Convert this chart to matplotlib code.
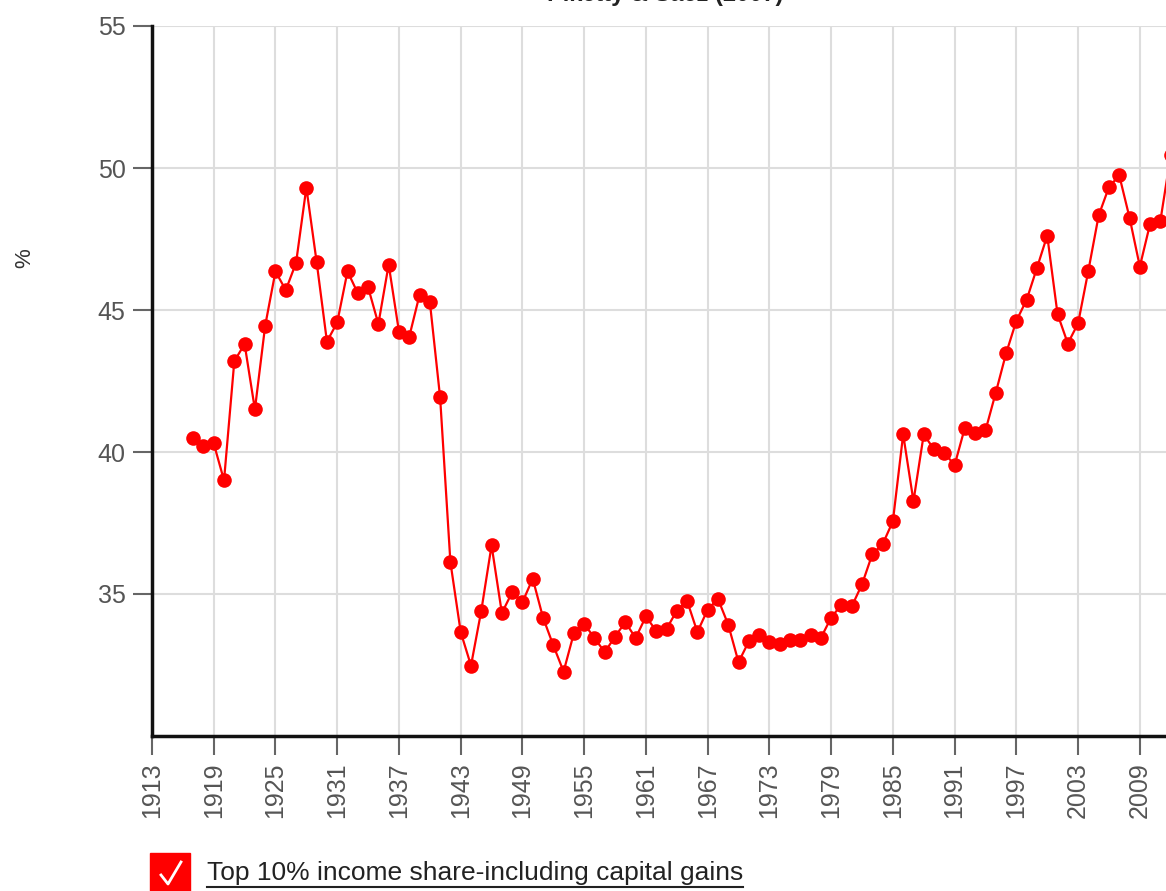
import matplotlib
matplotlib.use("Agg")
import matplotlib.pyplot as plt
from matplotlib.patches import Rectangle
from matplotlib.lines import Line2D

# 美国前10%收入占比(含资本利得), Piketty & Saez
years = list(range(1917, 2013))
top10_share = [
    40.5, 40.2, 40.3, 39.0, 43.2, 43.8, 41.5, 44.45, 46.36, 45.7,
    46.66, 49.31, 46.69, 43.89, 44.56, 46.36, 45.59, 45.8, 44.51, 46.6,
    44.24, 44.06, 45.53, 45.29, 41.92, 36.12, 33.66, 32.48, 34.41, 36.71,
    34.33, 35.06, 34.71, 35.54, 34.17, 33.19, 32.27, 33.62, 33.95, 33.45,
    32.95, 33.5, 34.01, 33.45, 34.21, 33.7, 33.77, 34.41, 34.76, 33.66,
    34.45, 34.83, 33.92, 32.6, 33.33, 33.56, 33.3, 33.23, 33.39, 33.39,
    33.56, 33.45, 34.17, 34.62, 34.56, 35.34, 36.4, 36.75, 37.56, 40.62,
    38.27, 40.62, 40.09, 39.97, 39.54, 40.86, 40.68, 40.76, 42.09, 43.47,
    44.62, 45.36, 46.48, 47.62, 44.86, 43.82, 44.53, 46.39, 48.33, 49.33,
    49.74, 48.25, 46.53, 48.04, 48.15, 50.45,
]
x_ticks = list(range(1913, 2010, 6))
y_ticks = [35, 40, 45, 50, 55]
series_label = "Top 10% income share-including capital gains"
title = "Piketty & Saez (2007)"

plt.rcParams['font.family'] = ['Liberation Sans', 'DejaVu Sans']

W, H = 1166, 891
fig = plt.figure(figsize=(W / 100, H / 100), dpi=100)

# 坐标轴右侧超出画布(原图被裁切)
x0, x1 = 1913, 2013
px_per_year = 10.29
left_px, bottom_px, top_px = 152, 736, 26
ax = fig.add_axes([left_px / W, (H - bottom_px) / H,
                   (x1 - x0) * px_per_year / W, (bottom_px - top_px) / H])

ax.plot(years, top10_share, color='#ff0000', lw=1.6, marker='o',
        markersize=10.5, markeredgewidth=0, clip_on=False, zorder=3)

ax.set_xlim(x0, x1)
ax.set_ylim(30, 55)
ax.set_xticks(x_ticks)
ax.set_xticklabels([str(t) for t in x_ticks], rotation=90)
ax.set_yticks(y_ticks)
ax.grid(True, color='#dddddd', lw=1.5)
ax.set_axisbelow(True)

for s in ('top', 'right'):
    ax.spines[s].set_visible(False)
for s in ('left', 'bottom'):
    ax.spines[s].set_linewidth(2.5)
    ax.spines[s].set_color('#111111')

ax.tick_params(axis='both', direction='out', length=14, width=1.5,
               color='#666666', labelsize=18, labelcolor='#555555', pad=5)

# y轴标签
fig.text(25 / W, 1 - 258 / H, '%', rotation=90, fontsize=16,
         color='#333333', ha='center', va='center')

# 标题(上方被裁掉, 与原图一致)
fig.text(665 / W, 1 + 6 / H, title, fontsize=17, fontweight='bold',
         color='#222222', ha='center', va='center')

# 图例: 红色复选框 + 带下划线文字
bx, by, bw, bh = 150, 853, 40, 38
fig.patches.append(Rectangle((bx / W, 1 - (by + bh) / H), bw / W, bh / H,
                             transform=fig.transFigure, color='#ff0000'))
fig.lines.append(Line2D([(bx + 11) / W, (bx + 18) / W, (bx + 31) / W],
                        [1 - (by + 22) / H, 1 - (by + 31) / H, 1 - (by + 9) / H],
                        transform=fig.transFigure, color='white', lw=2))
txt = fig.text(207 / W, 1 - 873 / H, series_label, fontsize=19,
               color='#222222', ha='left', va='center')

fig.canvas.draw()
bb = txt.get_window_extent()
fig.lines.append(Line2D([bb.x0 / W, bb.x1 / W], [1 - 887 / H, 1 - 887 / H],
                        transform=fig.transFigure, color='#222222', lw=1.5))

fig.savefig('out.png', dpi=100)
